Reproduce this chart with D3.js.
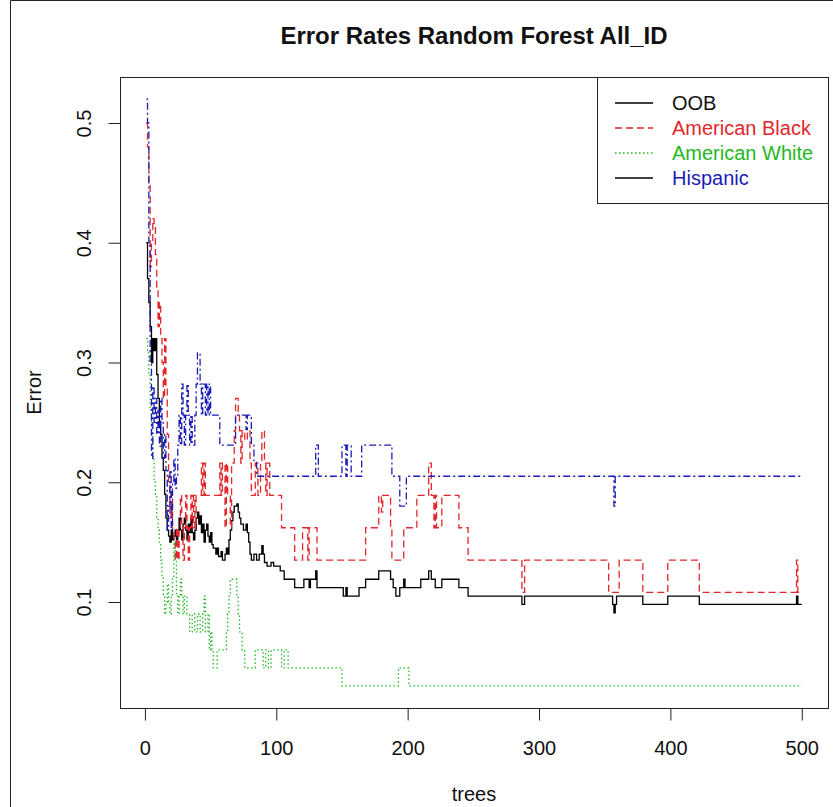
<!DOCTYPE html>
<html>
<head>
<meta charset="utf-8">
<script src="https://cdn.jsdelivr.net/npm/d3@7"></script>
<style>
  body { margin: 0; background: #fff; }
  svg { display: block; }
  text { font-family: "Liberation Sans", Arial, sans-serif; }
</style>
</head>
<body>
<div id="chart"></div>
<script>
// tick labels
const xTicks = [0, 100, 200, 300, 400, 500];
const yTicks = [0.1, 0.2, 0.3, 0.4, 0.5];
const seriesNames = ["OOB", "American Black", "American White", "Hispanic"];

// error rate per tree, [tree, error] at each change (held until the next one)
const oobErr = [[1,0.40],[2,0.37],[3,0.35],[4,0.33],[5,0.30],[6,0.32],[7,0.31],[8,0.32],[9,0.29],[10,0.27],[11,0.25],[12,0.24],[13,0.22],[14,0.21],[15,0.19],[16,0.17],[17,0.16],[18,0.155],[19,0.15],[20,0.16],[21,0.152],[22,0.155],[23,0.16],[24,0.152],[25,0.16],[26,0.17],[27,0.16],[28,0.152],[29,0.165],[30,0.17],[31,0.16],[32,0.152],[33,0.165],[34,0.158],[35,0.17],[36,0.158],[37,0.152],[38,0.16],[39,0.17],[40,0.175],[41,0.165],[42,0.172],[43,0.158],[44,0.165],[45,0.15],[46,0.16],[47,0.165],[48,0.155],[49,0.15],[50,0.158],[51,0.148],[52,0.145],[54,0.14],[55,0.145],[56,0.138],[58,0.142],[59,0.135],[61,0.14],[62,0.145],[63,0.14],[64,0.152],[65,0.16],[66,0.168],[67,0.175],[68,0.18],[70,0.182],[71,0.175],[72,0.17],[73,0.165],[75,0.16],[77,0.165],[78,0.158],[79,0.15],[80,0.14],[81,0.135],[83,0.14],[85,0.135],[87,0.14],[89,0.147],[90,0.14],[91,0.133],[93,0.13],[96,0.133],[98,0.13],[103,0.126],[106,0.119],[114,0.112],[121,0.119],[125,0.112],[126,0.119],[130,0.126],[131,0.112],[151,0.105],[153,0.112],[154,0.105],[163,0.112],[168,0.119],[178,0.126],[187,0.119],[189,0.112],[191,0.105],[194,0.112],[197,0.119],[198,0.112],[210,0.119],[216,0.126],[218,0.119],[221,0.112],[226,0.119],[239,0.112],[246,0.105],[287,0.098],[289,0.105],[356,0.098],[357,0.091],[358,0.098],[359,0.105],[379,0.098],[398,0.105],[422,0.098],[496,0.105],[497,0.098],[500,0.098]];

const blackErr = [[1,0.50],[2,0.48],[3,0.45],[4,0.38],[5,0.40],[6,0.42],[7,0.415],[8,0.39],[9,0.36],[10,0.33],[11,0.35],[12,0.32],[13,0.30],[14,0.27],[15,0.32],[16,0.28],[17,0.24],[18,0.20],[19,0.17],[20,0.19],[21,0.16],[22,0.15],[23,0.135],[24,0.162],[25,0.135],[26,0.162],[27,0.189],[28,0.162],[29,0.135],[30,0.162],[31,0.189],[32,0.162],[33,0.135],[34,0.162],[35,0.189],[36,0.162],[37,0.189],[38,0.162],[39,0.189],[43,0.216],[44,0.189],[45,0.216],[46,0.189],[57,0.216],[58,0.189],[59,0.216],[61,0.162],[62,0.216],[63,0.189],[65,0.162],[66,0.216],[68,0.243],[69,0.27],[71,0.256],[72,0.243],[73,0.216],[74,0.243],[76,0.235],[78,0.243],[80,0.216],[81,0.189],[84,0.216],[86,0.189],[88,0.216],[89,0.243],[91,0.216],[92,0.189],[93,0.216],[95,0.189],[104,0.162],[114,0.135],[120,0.162],[124,0.135],[125,0.162],[131,0.135],[168,0.162],[178,0.189],[180,0.175],[181,0.189],[187,0.162],[188,0.135],[197,0.162],[207,0.189],[216,0.216],[218,0.189],[220,0.162],[221,0.189],[222,0.162],[226,0.189],[239,0.162],[246,0.135],[287,0.108],[289,0.135],[353,0.108],[361,0.135],[379,0.108],[398,0.135],[422,0.108],[496,0.135],[497,0.108],[500,0.108]];

const whiteErr = [[1,0.32],[2,0.31],[3,0.29],[4,0.26],[5,0.24],[6,0.22],[7,0.20],[8,0.19],[9,0.17],[10,0.16],[11,0.15],[12,0.135],[13,0.12],[14,0.105],[15,0.09],[16,0.10],[17,0.115],[18,0.10],[19,0.09],[20,0.105],[21,0.12],[22,0.15],[23,0.135],[24,0.105],[25,0.09],[26,0.105],[27,0.119],[28,0.105],[29,0.09],[30,0.105],[32,0.09],[34,0.075],[36,0.09],[38,0.075],[40,0.09],[42,0.075],[44,0.09],[45,0.105],[46,0.075],[48,0.09],[49,0.06],[50,0.075],[51,0.06],[52,0.045],[55,0.06],[62,0.075],[63,0.09],[64,0.105],[65,0.119],[70,0.105],[71,0.09],[72,0.075],[74,0.06],[76,0.045],[84,0.06],[90,0.045],[92,0.06],[94,0.045],[96,0.06],[104,0.045],[106,0.06],[109,0.045],[150,0.03],[193,0.045],[201,0.03],[500,0.03]];

const hispErr = [[1,0.52],[2,0.50],[3,0.40],[4,0.30],[5,0.22],[6,0.28],[7,0.25],[8,0.27],[9,0.24],[10,0.26],[11,0.23],[12,0.27],[13,0.25],[14,0.22],[15,0.24],[16,0.21],[17,0.16],[18,0.18],[19,0.21],[20,0.16],[21,0.20],[22,0.22],[23,0.195],[24,0.205],[25,0.231],[26,0.256],[27,0.231],[28,0.282],[29,0.256],[30,0.231],[31,0.256],[32,0.282],[33,0.256],[34,0.231],[35,0.256],[36,0.231],[38,0.256],[39,0.282],[40,0.308],[42,0.282],[43,0.256],[44,0.282],[46,0.256],[47,0.282],[48,0.256],[49,0.282],[50,0.256],[57,0.231],[69,0.256],[77,0.244],[78,0.256],[81,0.231],[83,0.218],[85,0.205],[130,0.231],[132,0.205],[150,0.231],[153,0.205],[154,0.231],[157,0.205],[165,0.231],[188,0.205],[194,0.18],[199,0.205],[357,0.18],[358,0.205],[500,0.205]];

const WIDTH = 833, HEIGHT = 807;
const BOX = { LEFT: 120, RIGHT: 828, TOP: 77, BOTTOM: 708 };

const svg = d3.select("#chart").append("svg")
    .attr("width", WIDTH)
    .attr("height", HEIGHT);

// outer frame (only top and left edge show in the original)
svg.append("path")
    .attr("d", `M10.5,${HEIGHT} V0.5 H${WIDTH}`)
    .attr("fill", "none")
    .attr("stroke", "#222")
    .attr("stroke-width", 1);

// R pads the data range by 4% on each side
const x = d3.scaleLinear().domain([-18.96, 519.96]).range([BOX.LEFT, BOX.RIGHT]);
const y = d3.scaleLinear().domain([0.0115, 0.5384]).range([BOX.BOTTOM, BOX.TOP]);

const series = [
    { name: seriesNames[0], values: oobErr,   color: "#000000", dash: null },
    { name: seriesNames[1], values: blackErr, color: "#e3262b", dash: "7,4" },
    { name: seriesNames[2], values: whiteErr, color: "#22b822", dash: "1.5,2.5" },
    { name: seriesNames[3], values: hispErr,  color: "#1c1cb8", dash: "2,3,7,3" }
];

const line = d3.line()
    .x(d => x(d[0]))
    .y(d => y(d[1]))
    .curve(d3.curveStepAfter);

const g = svg.append("g");
series.forEach(s => {
    g.append("path")
        .datum(s.values)
        .attr("d", line)
        .attr("fill", "none")
        .attr("stroke", s.color)
        .attr("stroke-width", 1.3)
        .attr("stroke-dasharray", s.dash);
});

// plot box
svg.append("rect")
    .attr("x", BOX.LEFT + 0.5)
    .attr("y", BOX.TOP + 0.5)
    .attr("width", BOX.RIGHT - BOX.LEFT)
    .attr("height", BOX.BOTTOM - BOX.TOP)
    .attr("fill", "none")
    .attr("stroke", "#222");

// x axis
const xAxisGroup = svg.append("g")
    .attr("transform", `translate(0, ${BOX.BOTTOM + 0.5})`)
    .call(d3.axisBottom(x).tickValues(xTicks).tickSize(12).tickPadding(20).tickFormat(d3.format("d")));
xAxisGroup.select(".domain").remove();
xAxisGroup.selectAll("line").attr("stroke", "#222");
xAxisGroup.selectAll("text")
    .attr("font-size", "20px")
    .attr("font-family", "Liberation Sans, Arial, sans-serif")
    .attr("fill", "#111");

// y axis, labels turned like R's las=0
const yAxisGroup = svg.append("g")
    .attr("transform", `translate(${BOX.LEFT + 0.5}, 0)`)
    .call(d3.axisLeft(y).tickValues(yTicks).tickSize(12).tickFormat(d3.format(".1f")));
yAxisGroup.select(".domain").remove();
yAxisGroup.selectAll("line").attr("stroke", "#222");
yAxisGroup.selectAll("text")
    .attr("font-size", "20px")
    .attr("font-family", "Liberation Sans, Arial, sans-serif")
    .attr("fill", "#111")
    .attr("text-anchor", "middle")
    .attr("x", 0)
    .attr("y", -30)
    .attr("dy", 0)
    .attr("transform", "rotate(-90)");

// title and axis labels
svg.append("text")
    .attr("x", (BOX.LEFT + BOX.RIGHT) / 2)
    .attr("y", 44)
    .attr("text-anchor", "middle")
    .attr("font-size", "24px")
    .attr("font-weight", "bold")
    .attr("fill", "#111")
    .text("Error Rates Random Forest All_ID");

svg.append("text")
    .attr("x", (BOX.LEFT + BOX.RIGHT) / 2)
    .attr("y", 801)
    .attr("text-anchor", "middle")
    .attr("font-size", "20px")
    .attr("fill", "#111")
    .text("trees");

svg.append("text")
    .attr("transform", `translate(41, ${(BOX.TOP + BOX.BOTTOM) / 2}) rotate(-90)`)
    .attr("text-anchor", "middle")
    .attr("font-size", "20px")
    .attr("fill", "#111")
    .text("Error");

// legend (R draws the Hispanic key as a solid black line)
const legendKeys = [
    { color: "#000000", dash: null, text: "#111" },
    { color: "#e3262b", dash: "7,4", text: "#e3262b" },
    { color: "#22b822", dash: "1.5,2.5", text: "#22b822" },
    { color: "#000000", dash: null, text: "#1c1cb8" }
];
const legend = svg.append("g");
legend.append("rect")
    .attr("x", 597.5).attr("y", BOX.TOP + 0.5)
    .attr("width", BOX.RIGHT - 597).attr("height", 126)
    .attr("fill", "#fff")
    .attr("stroke", "#222");
seriesNames.forEach((name, i) => {
    const ry = 103 + i * 25;
    legend.append("line")
        .attr("x1", 615).attr("x2", 653)
        .attr("y1", ry).attr("y2", ry)
        .attr("stroke", legendKeys[i].color)
        .attr("stroke-width", 1.3)
        .attr("stroke-dasharray", legendKeys[i].dash);
    legend.append("text")
        .attr("x", 672).attr("y", ry + 7)
        .attr("font-size", "20px")
        .attr("fill", legendKeys[i].text)
        .text(name);
});
</script>
</body>
</html>
